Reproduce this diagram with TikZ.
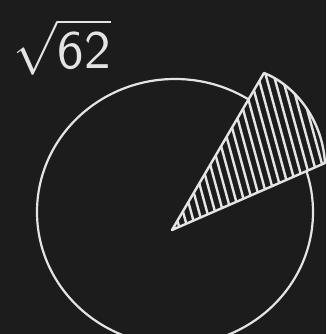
\documentclass[tikz,border=0pt]{standalone}
\definecolor{board}{RGB}{28,28,28}
\definecolor{chalk}{RGB}{228,228,228}
\begin{document}
\begin{tikzpicture}[x=1pt, y=1pt, line cap=round, line join=round]
    \fill[board] (0,0) rectangle (326,334);
    \useasboundingbox (0,0) rectangle (326,334);
    % the circle, cut off at the bottom
    \draw[chalk, line width=2.2pt] (175,122) ellipse [x radius=138, y radius=133];
    % the sector, reaching out over the circle
    \coordinate (apex) at (172,104);
    \coordinate (tip) at (264,261);
    \coordinate (corner) at (325,171);
    \fill[board] (apex) -- (tip) .. controls (292,250) and (322,218) .. (corner) -- cycle;
    \begin{scope}
        \clip (apex) -- (tip) .. controls (292,250) and (322,218) .. (corner) -- cycle;
        \foreach \x in {100,108,...,340}
            \draw[chalk, line width=2.4pt] (\x,280) -- (\x+60,60);
    \end{scope}
    \draw[chalk, line width=2.4pt] (apex) -- (tip) .. controls (292,250) and (322,218) .. (corner) -- cycle;
    \node[chalk, inner sep=0pt] (root) at (62,287)
        {\scalebox{5.3}[5.4]{$\sqrt{\mathsf{62}}$}};
\end{tikzpicture}
\end{document}
